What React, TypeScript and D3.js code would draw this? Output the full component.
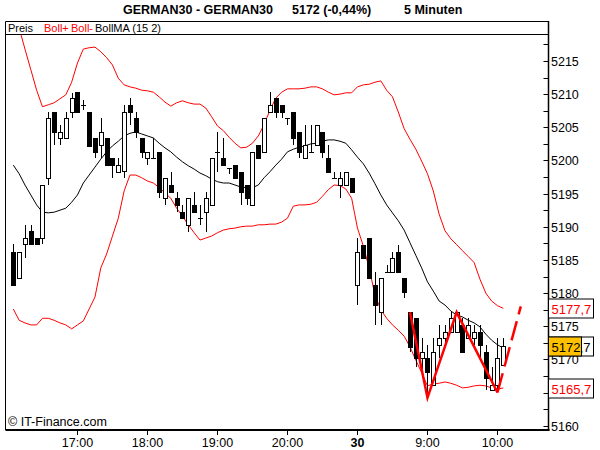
import * as d3 from 'd3'
import React, { useEffect, useRef } from 'react'

// 5 minute candles, index 0 = 16:05, 12 per hour (day 30 starts at index 59 = 8:00)
const candleOpen = [
  5186.2, 5182.3, 5187.4, 5189.3, 5188.3, 5188.3, 5197.4, 5207.3, 5203.4, 5203.4,
  5207.3, 5210.3, 5208.4, 5207.3, 5203.4, 5202.3, 5203.4, 5200.4, 5198.3, 5198.4,
  5208.4, 5206.4, 5203.4, 5200.4, 5200.4, 5201.3, 5194.3, 5196.3, 5194.3, 5192.2,
  5190.3, 5193.3, 5191.3, 5192.2, 5193.3, 5201.3, 5200.4, 5198.8, 5199.3, 5198.3,
  5196.3, 5193.3, 5202.3, 5201.3, 5207.3, 5209.4, 5208.4, 5206.4, 5207.3, 5204.3,
  5200.4, 5201.3, 5202.3, 5204.3, 5200.4, 5197.4, 5196.3, 5196.3, 5197.4, 5181.2,
  5187.2, 5188.3, 5181.2, 5177.1, 5183.2, 5183.2, 5186.2, 5182.3, 5177.1, 5176.2,
  5170.2, 5170.2, 5166.1, 5172.1, 5173.2, 5174.1, 5174.1, 5175.2, 5173.2, 5173.2,
  5174.1, 5171.1, 5165.4, 5166.1, 5169.1,
]
const candleHigh = [
  5187.4, 5186.2, 5190.3, 5190.3, 5188.3, 5196.3, 5207.3, 5207.3, 5205.4, 5207.3,
  5210.2, 5210.3, 5209.1, 5207.3, 5203.4, 5206.4, 5203.4, 5200.4, 5200.4, 5208.4,
  5209.4, 5207.3, 5203.4, 5201.3, 5203.4, 5201.3, 5197.4, 5198.3, 5195.3, 5193.3,
  5194.3, 5195.3, 5193.3, 5195.3, 5200.4, 5204.3, 5203.4, 5198.8, 5199.3, 5198.3,
  5196.3, 5201.3, 5202.3, 5206.4, 5210.3, 5209.4, 5208.4, 5206.4, 5207.3, 5204.3,
  5205.4, 5205.4, 5205.4, 5204.3, 5202.3, 5198.3, 5198.3, 5198.3, 5197.4, 5188.3,
  5187.2, 5188.3, 5183.2, 5182.3, 5184.2, 5186.2, 5187.2, 5182.3, 5177.1, 5176.2,
  5173.2, 5172.1, 5173.2, 5175.2, 5175.2, 5177.1, 5177.1, 5176.2, 5176.2, 5175.2,
  5175.2, 5172.1, 5168.8, 5173.2, 5173.2,
]
const candleLow = [
  5181.2, 5182.3, 5185.3, 5187.4, 5187.4, 5187.4, 5196.3, 5202.3, 5202.3, 5203.4,
  5206.4, 5207.3, 5207.6, 5202.2, 5200.4, 5200.4, 5199.3, 5197.4, 5198.3, 5197.4,
  5205.4, 5203.4, 5200.4, 5199.3, 5200.4, 5194.3, 5193.3, 5195.3, 5192.2, 5191.3,
  5189.2, 5192.2, 5190.3, 5189.2, 5193.3, 5198.3, 5199.3, 5197.9, 5197.4, 5193.3,
  5193.3, 5193.3, 5200.4, 5201.3, 5207.3, 5206.4, 5206.4, 5205.4, 5202.3, 5200.4,
  5200.4, 5201.3, 5202.3, 5200.4, 5198.3, 5197.4, 5194.3, 5196.3, 5195.3, 5178.2,
  5185.3, 5182.3, 5175.2, 5175.2, 5183.2, 5183.2, 5183.2, 5179.3, 5171.1, 5168.8,
  5167.2, 5164.2, 5166.1, 5170.2, 5172.1, 5174.1, 5174.1, 5171.1, 5173.2, 5172.1,
  5170.2, 5165.4, 5165.4, 5165.1, 5169.1,
]
const candleClose = [
  5181.2, 5186.2, 5188.3, 5187.4, 5187.4, 5196.3, 5206.4, 5204.3, 5204.3, 5206.4,
  5209.4, 5207.3, 5208.4, 5202.2, 5201.3, 5204.3, 5199.3, 5199.3, 5199.3, 5207.3,
  5207.3, 5204.3, 5201.3, 5201.3, 5200.4, 5195.3, 5197.4, 5195.3, 5193.3, 5191.3,
  5194.3, 5192.2, 5191.3, 5194.3, 5200.4, 5201.3, 5199.3, 5198.8, 5197.4, 5195.3,
  5194.3, 5201.3, 5200.4, 5206.4, 5208.4, 5207.3, 5207.3, 5206.4, 5203.4, 5201.3,
  5202.3, 5201.3, 5205.4, 5201.3, 5198.3, 5197.4, 5197.4, 5198.3, 5195.3, 5186.2,
  5185.3, 5182.3, 5178.2, 5182.3, 5183.2, 5185.3, 5183.2, 5180.1, 5171.9, 5170.2,
  5171.1, 5168.1, 5171.1, 5173.2, 5174.1, 5176.2, 5177.1, 5171.1, 5175.2, 5174.1,
  5172.1, 5167.2, 5166.1, 5170.2, 5172.0,
]

// Bollinger (15, 2)
const bollUpper = [
  5223.2, 5220.0, 5216.8, 5213.7, 5210.6, 5208.1, 5208.4, 5208.7, 5209.3, 5209.9,
  5211.8, 5214.7, 5216.8, 5217.0, 5217.1, 5216.4, 5215.5, 5214.4, 5212.4, 5211.4,
  5211.1, 5210.9, 5210.6, 5210.5, 5210.3, 5209.6, 5208.8, 5208.2, 5208.7, 5209.0,
  5208.7, 5208.5, 5208.5, 5207.9, 5206.6, 5205.2, 5204.5, 5203.5, 5202.6, 5201.9,
  5202.0, 5202.6, 5203.7, 5205.4, 5207.6, 5209.4, 5210.3, 5210.8, 5210.8, 5210.8,
  5210.9, 5211.1, 5211.1, 5210.8, 5210.3, 5209.9, 5210.0, 5210.2, 5210.2, 5211.1,
  5211.4, 5211.5, 5211.8, 5212.0, 5210.6, 5209.6, 5207.3, 5204.8, 5203.2, 5201.7,
  5199.9, 5198.0, 5195.4, 5191.9, 5189.4, 5188.2, 5187.3, 5186.4, 5185.5, 5184.6,
  5182.1, 5180.0, 5178.8, 5178.1, 5177.7,
]
const bollLower = [
  5177.6, 5175.9, 5175.5, 5175.2, 5175.2, 5176.2, 5176.2, 5175.9, 5175.5, 5175.2,
  5174.6, 5175.2, 5175.8, 5177.6, 5179.4, 5183.8, 5185.9, 5188.6, 5191.3, 5195.4,
  5197.8, 5197.8, 5197.4, 5196.9, 5196.6, 5195.9, 5195.1, 5194.3, 5192.8, 5191.6,
  5190.3, 5189.1, 5188.0, 5188.3, 5188.6, 5189.1, 5189.5, 5189.7, 5189.8, 5190.0,
  5190.1, 5190.1, 5190.3, 5190.3, 5190.4, 5190.4, 5190.7, 5191.3, 5193.1, 5193.3,
  5193.3, 5193.4, 5193.7, 5194.6, 5195.6, 5196.3, 5196.2, 5195.7, 5194.3, 5189.8,
  5187.1, 5183.8, 5179.7, 5177.5, 5176.2, 5175.2, 5174.4, 5173.5, 5171.9, 5169.9,
  5168.0, 5166.0, 5166.3, 5166.4, 5166.6, 5166.4, 5166.1, 5165.7, 5165.8, 5166.0,
  5166.1, 5166.0, 5165.7, 5165.5, 5165.7,
]
const bollMA = [
  5199.3, 5198.0, 5196.3, 5194.8, 5193.3, 5192.2, 5192.1, 5192.2, 5192.5, 5192.8,
  5193.7, 5194.8, 5196.6, 5197.8, 5199.0, 5200.2, 5201.3, 5202.2, 5202.9, 5203.7,
  5204.1, 5204.3, 5204.0, 5203.7, 5203.4, 5202.6, 5201.9, 5201.3, 5200.5, 5199.8,
  5199.2, 5198.7, 5198.1, 5197.7, 5197.2, 5196.8, 5196.6, 5196.6, 5196.3, 5196.0,
  5195.9, 5195.9, 5196.3, 5197.4, 5198.3, 5199.3, 5200.2, 5201.3, 5201.7, 5202.0,
  5202.2, 5202.5, 5202.6, 5202.9, 5203.1, 5203.1, 5202.9, 5202.6, 5201.6, 5200.5,
  5199.5, 5198.1, 5196.5, 5194.8, 5193.3, 5192.1, 5190.9, 5189.5, 5187.6, 5185.7,
  5183.8, 5181.7, 5180.3, 5178.8, 5178.2, 5177.3, 5176.7, 5176.4, 5175.9, 5175.5,
  5174.9, 5173.8, 5172.9, 5172.2, 5171.7,
]

// zigzag pivots and the dashed projection
const zigIdx = [68, 71, 76, 83]
const zigVal = [5177.1, 5164.2, 5177.1, 5165.0]
const projIdx = [83, 87]
const projVal = [5165.0, 5178.0]

const timeIdx = [11, 23, 35, 47, 59, 71, 83]
const timeLabels = ['17:00', '18:00', '19:00', '20:00', '30', '9:00', '10:00']

const lastUpper = '5177,7'
const lastMA = '5171,7'
const lastPrice = '5172'
const lastLower = '5165,7'

const FONT = '"Liberation Sans", Arial, sans-serif'

export default function App() {
  const ref = useRef<SVGSVGElement>(null)

  useEffect(() => {
    if (!ref.current) return
    const svg = d3.select(ref.current)
    svg.selectAll('*').remove()

    const left = 5.5
    const right = 548.5
    const top = 21.5
    const bottom = 430

    const x = d3.scaleLinear().domain([0, 84]).range([13.3, 503.3])
    const y = d3.scaleLinear().domain([5160, 5215]).range([425.7, 61])

    svg.append('rect').attr('width', 600).attr('height', 450).attr('fill', '#fff')

    const defs = svg.append('defs')
    defs
      .append('clipPath')
      .attr('id', 'plot')
      .append('rect')
      .attr('x', left + 0.5)
      .attr('y', 35)
      .attr('width', right - left - 1)
      .attr('height', bottom - 35 - 1)

    // title
    const title = svg
      .append('text')
      .attr('y', 14)
      .attr('font-family', FONT)
      .attr('font-size', 12.5)
      .attr('font-weight', 'bold')
    title.append('tspan').attr('x', 123).text('GERMAN30 - GERMAN30')
    title.append('tspan').attr('x', 292).text('5172 (-0,44%)')
    title.append('tspan').attr('x', 404).text('5 Minuten')

    // frame
    const frame = svg.append('g').attr('stroke', '#000').attr('fill', 'none')
    frame.append('line').attr('x1', left).attr('x2', left).attr('y1', top).attr('y2', bottom)
    frame.append('line').attr('x1', left).attr('x2', right).attr('y1', top).attr('y2', top)
    frame.append('line').attr('x1', left).attr('x2', right).attr('y1', 34.5).attr('y2', 34.5)
    frame
      .append('line')
      .attr('x1', left)
      .attr('x2', right + 1)
      .attr('y1', bottom)
      .attr('y2', bottom)
      .attr('stroke-width', 2)
    frame
      .append('line')
      .attr('x1', right)
      .attr('x2', right)
      .attr('y1', top - 0.5)
      .attr('y2', bottom + 1)
      .attr('stroke-width', 1.5)

    // legend
    const legend = svg.append('g').attr('font-family', FONT).attr('font-size', 11)
    legend.append('text').attr('x', 8).attr('y', 32).text('Preis')
    legend.append('text').attr('x', 44).attr('y', 32).attr('fill', '#f00').text('Boll+')
    legend.append('text').attr('x', 71).attr('y', 32).attr('fill', '#f00').text('Boll-')
    legend.append('text').attr('x', 95).attr('y', 32).text('BollMA (15 2)')

    const plot = svg.append('g').attr('clip-path', 'url(#plot)')

    const line = d3
      .line<number>()
      .x((_, i) => x(i))
      .y(d => y(d))

    plot.append('path').attr('d', line(bollUpper)).attr('fill', 'none').attr('stroke', '#f00')
    plot.append('path').attr('d', line(bollLower)).attr('fill', 'none').attr('stroke', '#f00')
    plot.append('path').attr('d', line(bollMA)).attr('fill', 'none').attr('stroke', '#000')

    // candles
    const candles = plot.append('g').attr('stroke', '#000').attr('shape-rendering', 'crispEdges')
    candleOpen.forEach((o, i) => {
      const c = candleClose[i]
      const xc = Math.round(x(i)) + 0.5
      const yh = Math.round(y(candleHigh[i]))
      const yl = Math.round(y(candleLow[i]))
      const yt = Math.round(y(Math.max(o, c)))
      const yb = Math.round(y(Math.min(o, c)))
      if (yl > yh) candles.append('line').attr('x1', xc).attr('x2', xc).attr('y1', yh).attr('y2', yl)
      if (yb - yt < 1) {
        candles
          .append('line')
          .attr('x1', xc - 2.5)
          .attr('x2', xc + 2.5)
          .attr('y1', yt + 0.5)
          .attr('y2', yt + 0.5)
      } else {
        candles
          .append('rect')
          .attr('x', xc - 2)
          .attr('y', yt + 0.5)
          .attr('width', 4)
          .attr('height', yb - yt)
          .attr('fill', c < o ? '#000' : '#fff')
      }
    })

    // zigzag
    const zig = d3
      .line<number>()
      .x((_, i) => x(zigIdx[i]))
      .y(d => y(d))
    svg
      .append('path')
      .attr('d', zig(zigVal))
      .attr('fill', 'none')
      .attr('stroke', '#f00')
      .attr('stroke-width', 2.5)
    const proj = d3
      .line<number>()
      .x((_, i) => x(projIdx[i]))
      .y(d => y(d))
    svg
      .append('path')
      .attr('d', proj(projVal))
      .attr('fill', 'none')
      .attr('stroke', '#f00')
      .attr('stroke-width', 2.5)
      .attr('stroke-dasharray', '20,7')

    // right axis
    const ticks = d3.range(5160, 5218, 2.5)
    const axis = svg.append('g').attr('font-family', FONT).attr('font-size', 12.5)
    ticks.forEach(v => {
      const yy = Math.round(y(v)) + 0.5
      axis.append('line').attr('x1', right - 5).attr('x2', right).attr('y1', yy).attr('y2', yy).attr('stroke', '#000')
      if (v % 5 === 0) axis.append('text').attr('x', 551).attr('y', yy + 4.5).text(v)
    })

    // bottom axis
    const bx = svg.append('g').attr('font-family', FONT).attr('font-size', 12.5).attr('text-anchor', 'middle')
    timeIdx.forEach((idx, k) => {
      const xx = Math.round(x(idx)) + 0.5
      bx.append('line').attr('x1', xx).attr('x2', xx).attr('y1', bottom).attr('y2', bottom + 5).attr('stroke', '#000')
      bx.append('text')
        .attr('x', xx)
        .attr('y', 447)
        .attr('font-weight', timeLabels[k] === '30' ? 'bold' : 'normal')
        .text(timeLabels[k])
    })

    svg
      .append('text')
      .attr('x', 8)
      .attr('y', 426)
      .attr('font-family', FONT)
      .attr('font-size', 12.5)
      .text('\u00a9 IT-Finance.com')

    // value boxes on the axis
    const box = (v: number, label: string, w: number, fill: string, color: string, anchorEnd = false) => {
      const yy = Math.round(y(v)) + 0.5
      const g = svg.append('g')
      g.append('rect')
        .attr('x', right)
        .attr('y', yy - 9.5)
        .attr('width', w)
        .attr('height', 19)
        .attr('fill', fill)
        .attr('stroke', '#000')
      g.append('text')
        .attr('x', anchorEnd ? right + w - 3 : right + 3)
        .attr('y', yy + 5)
        .attr('text-anchor', anchorEnd ? 'end' : 'start')
        .attr('font-family', FONT)
        .attr('font-size', 13)
        .attr('fill', color)
        .text(label)
    }
    box(5177.7, lastUpper, 45, '#fff', '#f00')
    box(5172, lastMA, 45, '#fff', '#000', true)
    box(5172, lastPrice, 33, '#ffc000', '#000')
    box(5165.7, lastLower, 45, '#fff', '#f00')
  }, [])

  return <svg ref={ref} width={600} height={450} style={{ position: 'absolute', left: 0, top: 0 }} />
}
